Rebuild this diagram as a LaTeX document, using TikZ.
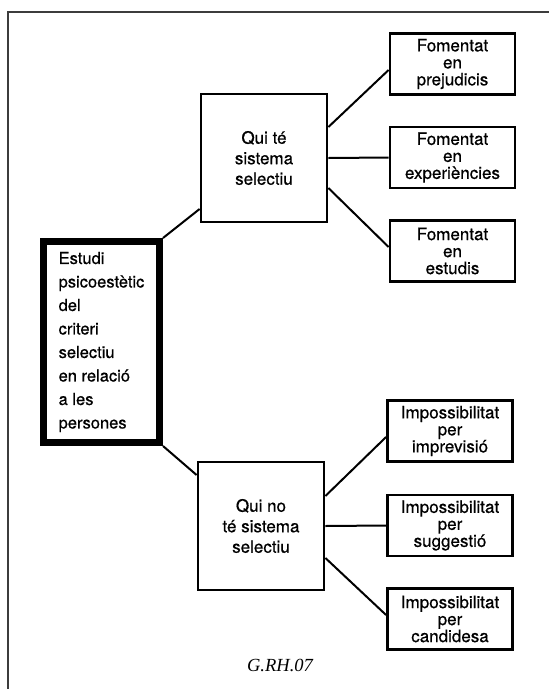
\documentclass[tikz,border=0pt]{standalone}
\usepackage{fontspec}
\setmainfont{TeX Gyre Heros}[FakeBold=0.6]
\newfontfamily\codefont{Liberation Serif}
\usepackage{tikz}
\definecolor{FrameGray}{RGB}{60,60,60}

\begin{document}
\begin{tikzpicture}[x=1pt, y=-1pt,
    root/.style={rectangle, draw, line width=7pt, inner sep=0pt,
                 minimum width=116pt, minimum height=201pt,
                 align=left, font=\fontsize{16.5}{23.5}\selectfont},
    mid/.style={rectangle, draw, line width=2.8pt, inner sep=0pt,
                minimum width=126pt, minimum height=128pt,
                align=center, font=\fontsize{17}{20.5}\selectfont},
    leaf/.style={rectangle, draw, line width=2.8pt, inner sep=0pt,
                 minimum width=125pt, minimum height=61pt,
                 align=center, font=\fontsize{17}{17}\selectfont},
    link/.style={line width=2pt}
  ]
  \useasboundingbox (0,0) rectangle (549,689);
  \draw[FrameGray, line width=2pt] (8,689) -- (8,12) -- (549,12);

  \node[root] (estudi) at (101.5,342)
        {Estudi\\psicoestètic\\del\\criteri\\selectiu\\en relació\\a les\\persones};
  \node[mid] (quite) at (264,158) {Qui té\\sistema\\selectiu};
  \node[mid] (quino) at (261,526) {Qui no\\té sistema\\selectiu};

  % branca superior
  \foreach \n/\y/\txt in {f1/64/{Fomentat\\en\\prejudicis},
                          f2/157.5/{Fomentat\\en\\experiències},
                          f3/251/{Fomentat\\en\\estudis}} {
    \node[leaf] (\n) at (452.5,\y) {\txt};
  }
  % branca inferior
  \foreach \n/\y/\txt in {i1/431/{Impossibilitat\\per\\imprevisió},
                          i2/525.5/{Impossibilitat\\per\\suggestió},
                          i3/619/{Impossibilitat\\per\\candidesa}} {
    \node[leaf] (\n) at (450,\y) {\txt};
  }

  \draw[link] (estudi.north east) -- ([yshift=-51pt]quite.west);
  \draw[link] (estudi.south east) -- ([yshift=51pt]quino.west);
  \foreach \n/\a/\b in {f1/31/-6, f2/0/0, f3/-30/4} {
    \draw[link] ([yshift=\a pt]quite.east) -- ([yshift=\b pt]\n.west);
  }
  \foreach \n/\a/\b in {i1/30/-6, i2/0/0, i3/-32/4} {
    \draw[link] ([yshift=\a pt]quino.east) -- ([yshift=\b pt]\n.west);
  }

  \node[font=\codefont\itshape\fontsize{18.5}{20}\selectfont] (codi) at (280,665) {G.RH.07};
\end{tikzpicture}
\end{document}
